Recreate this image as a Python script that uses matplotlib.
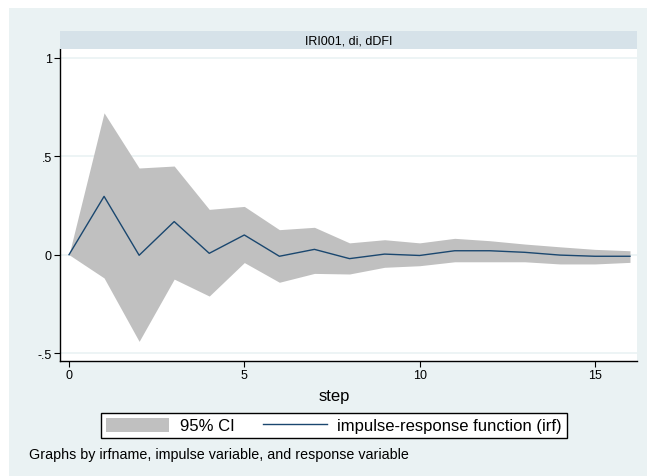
import matplotlib
matplotlib.use("Agg")
import matplotlib.pyplot as plt
from matplotlib.patches import Patch, Rectangle
from matplotlib.lines import Line2D

plt.rcParams['font.family'] = ['Liberation Sans', 'DejaVu Sans']

steps = list(range(17))
irf = [0.0, 0.296, -0.003, 0.168, 0.007, 0.100, -0.008, 0.027, -0.020, 0.003,
       -0.004, 0.020, 0.020, 0.012, -0.002, -0.008, -0.008]
ci_upper = [0.0, 0.72, 0.44, 0.45, 0.23, 0.245, 0.127, 0.139, 0.060, 0.076,
            0.060, 0.083, 0.071, 0.054, 0.040, 0.027, 0.020]
ci_lower = [0.0, -0.118, -0.44, -0.124, -0.21, -0.04, -0.14, -0.095, -0.098, -0.064,
            -0.056, -0.036, -0.036, -0.036, -0.047, -0.047, -0.039]
yticks = [-0.5, 0, 0.5, 1]
ytick_labels = ['-.5', '0', '.5', '1']
xticks = [0, 5, 10, 15]
panel_title = 'IRI001, di, dDFI'

BG = '#EAF2F3'
STRIP = '#D6E2E9'
CI_COL = '#C0C0C0'
LINE_COL = '#1A476F'

W, H = 647, 477
fig = plt.figure(figsize=(W / 100, H / 100), dpi=100)
fig.patch.set_facecolor('white')
fig.patches.append(Rectangle((9 / W, 0), 1 - 9 / W, 1 - 9 / H, transform=fig.transFigure,
                             facecolor=BG, edgecolor='none', zorder=-10))

ax_l, ax_r = 60 / W, 637 / W
ax_t, ax_b = 1 - 50 / H, 1 - 362 / H
ax = fig.add_axes([ax_l, ax_b, ax_r - ax_l, ax_t - ax_b])
ax.set_facecolor('white')

fig.patches.append(Rectangle((ax_l, 1 - 50 / H), ax_r - ax_l, 18 / H, transform=fig.transFigure,
                             facecolor=STRIP, edgecolor='none', zorder=1))
fig.text((ax_l + ax_r) / 2, 1 - 41 / H, panel_title, ha='center', va='center', fontsize=9)

for y in yticks:
    ax.axhline(y, color=BG, lw=1.2, zorder=0)

ax.fill_between(steps, ci_lower, ci_upper, color=CI_COL, lw=0, zorder=2)
ax.plot(steps, irf, color=LINE_COL, lw=1.0, zorder=3)

ax.set_xlim(-0.257, 16.2)
ax.set_ylim(-0.5396, 1.044)
ax.set_xticks(xticks)
ax.set_yticks(yticks)
ax.set_yticklabels(ytick_labels)
ax.tick_params(axis='both', direction='out', length=4, width=0.8, labelsize=9, pad=2, colors='black')
for s in ['top', 'right']:
    ax.spines[s].set_visible(False)
for s in ['left', 'bottom']:
    ax.spines[s].set_color('black')
    ax.spines[s].set_linewidth(1.0)

fig.text(334 / W, 1 - 397 / H, 'step', ha='center', va='center', fontsize=12)

handles = [Patch(facecolor=CI_COL, edgecolor='none'), Line2D([], [], color=LINE_COL, lw=1.0)]
leg = fig.legend(handles, ['95% CI', 'impulse-response function (irf)'], ncol=2,
                 loc='center', bbox_to_anchor=(334 / W, 1 - 426.5 / H), fontsize=12,
                 frameon=True, fancybox=False, edgecolor='black', facecolor='white',
                 framealpha=1, handlelength=3.8, handleheight=0.9, handletextpad=0.65,
                 columnspacing=1.7, borderpad=0.3, borderaxespad=0)
leg.get_frame().set_linewidth(1.0)

fig.text(29 / W, 1 - 455 / H, 'Graphs by irfname, impulse variable, and response variable',
         ha='left', va='center', fontsize=10.3)

fig.savefig('out.png', dpi=100)
